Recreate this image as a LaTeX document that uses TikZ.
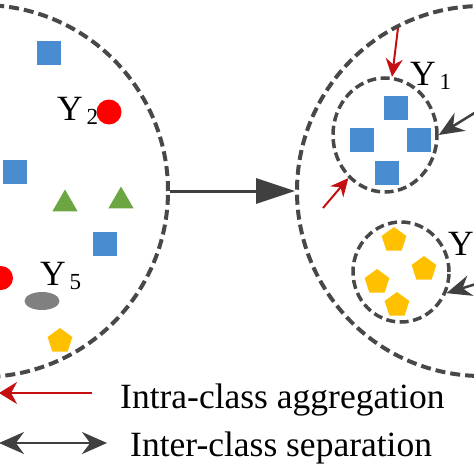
\documentclass[tikz,border=0pt]{standalone}
\usepackage{fontspec}
\setmainfont{Liberation Serif}
\usetikzlibrary{shapes.geometric}
\usetikzlibrary{arrows.meta,calc}
\definecolor{boxblue}{RGB}{74,140,208}
\definecolor{leafgreen}{RGB}{108,166,66}
\definecolor{gold}{RGB}{255,192,0}
\definecolor{darkred}{RGB}{196,16,16}
\definecolor{ringgrey}{RGB}{72,72,72}
\definecolor{arrowgrey}{RGB}{64,64,64}
\newcommand{\ylab}[1]{Y\raisebox{-0.3ex}{\fontsize{23}{23}\selectfont\,#1}}

\begin{document}
\begin{tikzpicture}[x=1pt, y=-1pt,
ring/.style ={circle, draw=ringgrey, line width=4pt, dash pattern=on 10pt off 5pt, minimum size=372pt},
cluster/.style ={ellipse, draw=ringgrey, line width=3.5pt, dash pattern=on 9pt off 4.5pt},
sq/.style ={rectangle, fill=boxblue, minimum size=24pt, inner sep=0pt},
tri/.style ={regular polygon, regular polygon sides=3, fill=leafgreen, minimum size=29pt, inner sep=0pt},
pent/.style ={regular polygon, regular polygon sides=5, fill=gold, minimum size=26pt, inner sep=0pt},
dot/.style ={circle, fill=red, minimum size=25pt, inner sep=0pt},
lbl/.style ={font=\fontsize{35.5}{35.5}\selectfont, inner sep=0pt, anchor=base west},
pull/.style ={-{Stealth[length=18pt, width=17pt]}, line width=2pt, darkred},
push/.style ={-{Stealth[length=25pt, width=21pt]}, line width=2.5pt, arrowgrey},
link/.style ={-{Triangle[length=39pt, width=25pt]}, line width=3pt, arrowgrey},
]
\useasboundingbox (0,0) rectangle (474,474);

% before: all samples mixed
\node (L) [ring] at (-18,191) {};
\node (sqA) [sq] at (49,53) {};
\node (sqB) [sq] at (15,172) {};
\node (sqC) [sq] at (105,244) {};
\node (dotA) [dot] at (109,112) {};
\node (dotB) [dot, minimum size=24pt] at (1,278) {};
\node (triA) [tri] at (65,204) {};
\node (triB) [tri] at (121,201) {};
\node (oval) [ellipse, fill=gray, minimum width=35pt, minimum height=18pt, inner sep=0pt] at (42,301) {};
\node (pentA) [pent] at (60,341) {};
\node (Y2) [lbl] at (57,120) {\ylab{2}};
\node (Y5) [lbl] at (40,285) {\ylab{5}};

% after: compact clusters
\node (R) [ring, minimum size=370pt] at (482,191) {};
\node (C1) [cluster, minimum width=104pt, minimum height=114pt] at (385,135) {};
\node (sqD) [sq] at (396,108) {};
\node (sqE) [sq] at (362,140) {};
\node (sqF) [sq] at (419,140) {};
\node (sqG) [sq] at (387,173) {};
\node (Y1) [lbl] at (410,85) {\ylab{1}};

\node (C2) [cluster, minimum width=96pt, minimum height=100pt] at (401,272) {};
\node (pentB) [pent] at (394,240) {};
\node (pentC) [pent] at (424,269) {};
\node (pentD) [pent] at (377,282) {};
\node (pentE) [pent] at (397,305) {};
\node (Y3) [lbl] at (448,255) {Y};

\draw[link] (L.east) -- (R.west);

\coordinate (inA) at (398,28);
\coordinate (inB) at (323,208);
\coordinate (outA) at (476,112);
\coordinate (outB) at (476,284);
\draw[pull] (inA) -- (C1);
\draw[pull] (inB) -- (C1);
\draw[push] (outA) -- (C1.east);
\draw[push] (outB) -- (C2.-25);

% legend
\coordinate (keyA) at (92,393);
\coordinate (keyB) at (-1,393);
\coordinate (keyC) at (-1,443);
\coordinate (keyD) at (107,443);
\draw[pull, -{Stealth[length=18pt, width=22pt]}] (keyA) -- (keyB);
\draw[push, {Stealth[length=25pt, width=22pt]}-{Stealth[length=25pt, width=22pt]}] (keyC) -- (keyD);
\node (aggtext) [lbl] at (120,408) {Intra-class aggregation};
\node (septext) [lbl] at (130,456) {Inter-class separation};

\end{tikzpicture}
\end{document}
